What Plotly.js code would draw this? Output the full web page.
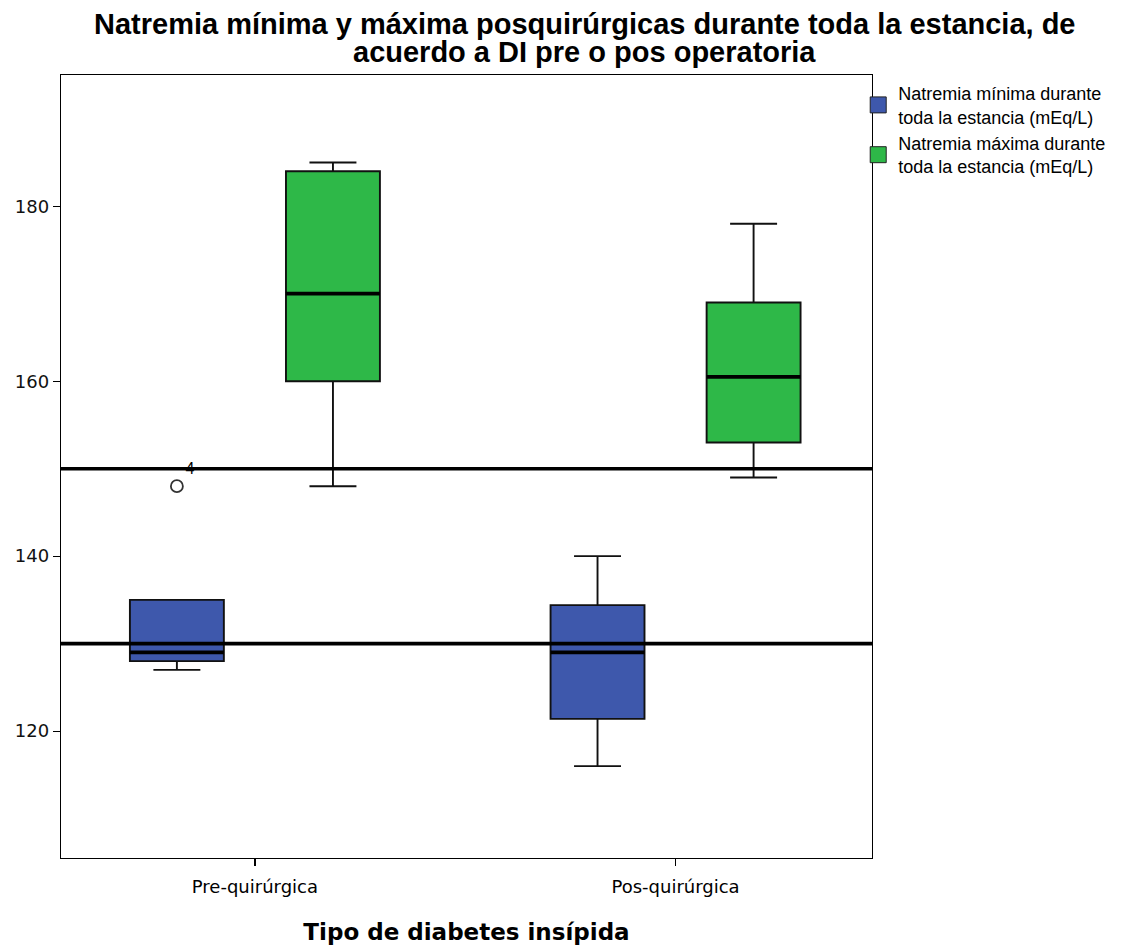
<!DOCTYPE html>
<html>
<head>
<meta charset="utf-8">
<script src="https://cdn.plot.ly/plotly-3.0.1.min.js"></script>
<style>
  html, body { margin: 0; padding: 0; background: #fff; }
  #chart { width: 1125px; height: 945px; }
</style>
</head>
<body>
<div id="chart"></div>
<script>
// ---- Data ----
const categories = ['Pre-quirúrgica', 'Pos-quirúrgica'];

const seriesNames = [
  'Natremia mínima durante<br>toda la estancia (mEq/L)',
  'Natremia máxima durante<br>toda la estancia (mEq/L)'
];

// Natremia mínima
const minLower  = [127, 116];
const minQ1     = [128, 121.4];
const minMedian = [129, 129];
const minQ3     = [135, 134.4];
const minUpper  = [135, 140];

// Natremia máxima
const maxLower  = [148, 149];
const maxQ1     = [160, 153];
const maxMedian = [170, 160.5];
const maxQ3     = [184, 169];
const maxUpper  = [185, 178];

// Outlier (mínima, Pre-quirúrgica)
const outlierCategory = ['Pre-quirúrgica'];
const outlierValue    = [148];
const outlierLabel    = ['4'];

// Reference lines
const referenceLines = [130, 150];

const titleLines = [
  'Natremia mínima y máxima posquirúrgicas durante toda la estancia, de',
  'acuerdo a DI pre o pos operatoria'
];
const xAxisTitle = 'Tipo de diabetes insípida';
const yTickVals = [120, 140, 160, 180];

// ---- Styling ----
const blue = '#3E58AC';
const green = '#2EB848';
const colors = [blue, green];
const BOXGAP = 0.258;
const BOXGROUPGAP = 0.398;
const XRANGE = [-0.461, 1.467];
const YRANGE = [105.5, 195];

function boxTrace(color, group, lower, q1, med, q3, upper) {
  return {
    type: 'box', x: categories, showlegend: false,
    lowerfence: lower, q1: q1, median: med, q3: q3, upperfence: upper,
    fillcolor: color, line: { color: '#111', width: 1.9 },
    whiskerwidth: 0.5, boxpoints: false,
    alignmentgroup: 'a', offsetgroup: group,
    hoverinfo: 'skip'
  };
}
function medianTrace(group, med) {
  return {
    type: 'box', x: categories, showlegend: false,
    lowerfence: med, q1: med, median: med, q3: med, upperfence: med,
    fillcolor: 'rgba(0,0,0,0)', line: { color: '#000', width: 3.8 },
    whiskerwidth: 0, boxpoints: false,
    alignmentgroup: 'a', offsetgroup: group, hoverinfo: 'skip'
  };
}
function legendTrace(name, color) {
  return {
    type: 'scatter', mode: 'markers', xaxis: 'x2', yaxis: 'y',
    x: [null], y: [null], name: name, showlegend: true,
    marker: { symbol: 'square', size: 16, color: color, line: { color: '#222', width: 1 } },
    hoverinfo: 'skip'
  };
}

// outlier position: the category index shifted to the first group's box centre
const outlierX = outlierCategory.map(c => categories.indexOf(c) - (1 - BOXGAP) / 4);

const data = [
  boxTrace(blue, 'min', minLower, minQ1, minMedian, minQ3, minUpper),
  boxTrace(green, 'max', maxLower, maxQ1, maxMedian, maxQ3, maxUpper),
  medianTrace('min', minMedian),
  medianTrace('max', maxMedian),
  {
    type: 'scatter', mode: 'markers+text', xaxis: 'x2', yaxis: 'y',
    x: outlierX, y: outlierValue, text: outlierLabel,
    textposition: 'top right',
    textfont: { family: 'Liberation Sans, Arial, sans-serif', size: 16, color: '#000' },
    marker: { symbol: 'circle-open', size: 12, color: '#333', line: { width: 1.8, color: '#333' } },
    showlegend: false, hoverinfo: 'skip'
  },
  legendTrace(seriesNames[0], colors[0]),
  legendTrace(seriesNames[1], colors[1])
];

const layout = {
  width: 1125, height: 945,
  margin: { l: 61, r: 253, t: 75, b: 87 },
  paper_bgcolor: '#fff', plot_bgcolor: '#fff',
  font: { family: 'DejaVu Sans, sans-serif', size: 18, color: '#000' },
  boxmode: 'group', boxgap: BOXGAP, boxgroupgap: BOXGROUPGAP,
  showlegend: true,
  legend: {
    x: 0.983, xanchor: 'left', y: 1.0, yanchor: 'top',
    bgcolor: 'rgba(0,0,0,0)', borderwidth: 0,
    font: { family: 'Liberation Sans, Arial, sans-serif', size: 18, color: '#000' },
    tracegroupgap: 0, itemwidth: 30
  },
  xaxis: {
    type: 'category', range: XRANGE,
    showline: true, linecolor: '#000', linewidth: 1.3, mirror: true,
    ticks: 'outside', ticklen: 7, tickwidth: 1.3, tickcolor: '#000',
    ticklabelstandoff: 5,
    showgrid: false, zeroline: false,
    tickfont: { family: 'DejaVu Sans, sans-serif', size: 18, color: '#000' },
    title: { text: xAxisTitle, standoff: 28,
             font: { family: 'DejaVu Sans, sans-serif', size: 23, color: '#000', weight: 'bold' } }
  },
  xaxis2: { overlaying: 'x', range: XRANGE, visible: false, showgrid: false, zeroline: false },
  yaxis: {
    range: YRANGE, tickvals: yTickVals,
    showline: true, linecolor: '#000', linewidth: 1.3, mirror: true,
    ticks: 'outside', ticklen: 7, tickwidth: 1.3, tickcolor: '#000',
    showgrid: false, zeroline: false,
    tickfont: { family: 'DejaVu Sans, sans-serif', size: 18, color: '#111' }
  },
  shapes: referenceLines.map(v => ({
    type: 'line', xref: 'paper', x0: 0, x1: 1, yref: 'y', y0: v, y1: v,
    line: { color: '#000', width: 3.6 }, layer: 'above'
  })),
  annotations: [
    { text: '<b>' + titleLines[0] + '</b>', xref: 'paper', yref: 'paper',
      x: 0.646, y: 1.042, xanchor: 'center', yanchor: 'bottom', showarrow: false,
      font: { family: 'Liberation Sans, Arial, sans-serif', size: 29, color: '#000' } },
    { text: '<b>' + titleLines[1] + '</b>', xref: 'paper', yref: 'paper',
      x: 0.646, y: 1.006, xanchor: 'center', yanchor: 'bottom', showarrow: false,
      font: { family: 'Liberation Sans, Arial, sans-serif', size: 29, color: '#000' } }
  ]
};

Plotly.newPlot('chart', data, layout, { staticPlot: true, displayModeBar: false });
</script>
</body>
</html>
